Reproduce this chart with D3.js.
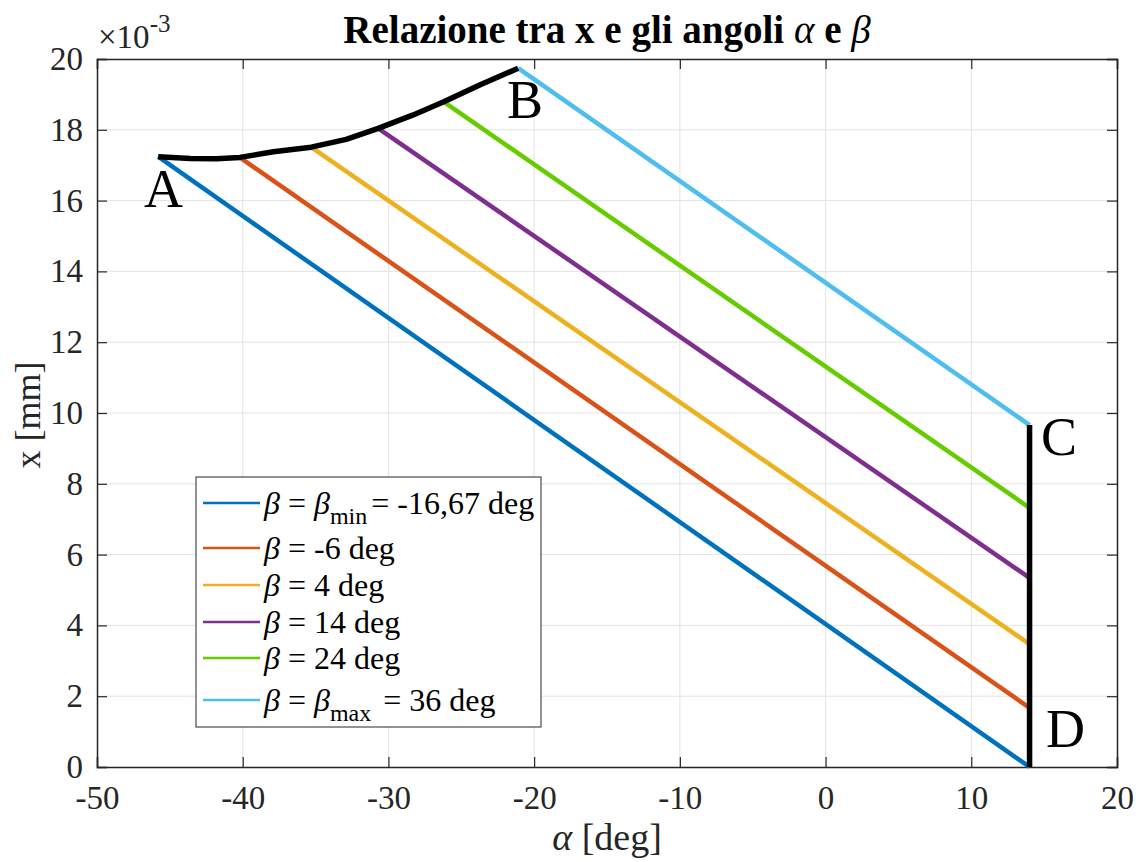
<!DOCTYPE html>
<html>
<head>
<meta charset="utf-8">
<script src="https://cdnjs.cloudflare.com/ajax/libs/d3/7.8.5/d3.min.js"></script>
<style>
  body { margin: 0; background: #fff; }
  svg text { font-family: "Liberation Serif", "Times New Roman", Times, "DejaVu Serif", serif; fill: #262626; }
</style>
</head>
<body>
<svg id="canvas"></svg>
<script>
// data (x in units of 1e-3 mm)
let seriesNames = ["bmin", "-6", "4", "14", "24", "bmax"]
let seriesColors = ["#0072BD", "#D95319", "#EDB120", "#7E2F8E", "#66CC00", "#4DBEEE"]
let alphaStart = [-45.8, -40.2, -35.3, -30.7, -26.2, -21.1]
let xStart = [17.24, 17.22, 17.51, 18.04, 18.79, 19.74]
let alphaEnd = [14, 14, 14, 14, 14, 14]
let xEnd = [0, 1.67, 3.47, 5.34, 7.32, 9.66]

// boundary curve A-B
let curveAlpha = [-45.8, -43.6, -41.8, -40.2, -37.9, -35.3, -32.9, -30.7, -28.3, -26.2, -23.7, -21.1]
let curveX = [17.24, 17.19, 17.18, 17.22, 17.38, 17.51, 17.73, 18.04, 18.42, 18.79, 19.27, 19.74]

// boundary C-D
let cdAlpha = [14, 14]
let cdX = [0, 9.66]

let xTicks = [-50, -40, -30, -20, -10, 0, 10, 20]
let yTicks = [0, 2, 4, 6, 8, 10, 12, 14, 16, 18, 20]

let width = 1138
let height = 862
let pLeft = 97, pRight = 1117, pTop = 59, pBottom = 767
let serif = '"Liberation Serif", "Times New Roman", Times, "DejaVu Serif", serif'

let svg = d3.select("#canvas")
    .attr("width", width)
    .attr("height", height)

let xScale = d3.scaleLinear().domain([-50, 20]).range([pLeft, pRight])
let yScale = d3.scaleLinear().domain([0, 20]).range([pBottom, pTop])

// grid
svg.append("g")
    .selectAll("line")
    .data(xTicks.slice(1, -1))
    .enter()
    .append("line")
    .attr("x1", d => xScale(d)).attr("x2", d => xScale(d))
    .attr("y1", pTop).attr("y2", pBottom)
    .attr("stroke", "#e3e3e3").attr("stroke-width", 1)
svg.append("g")
    .selectAll("line")
    .data(yTicks.slice(1, -1))
    .enter()
    .append("line")
    .attr("y1", d => yScale(d)).attr("y2", d => yScale(d))
    .attr("x1", pLeft).attr("x2", pRight)
    .attr("stroke", "#e3e3e3").attr("stroke-width", 1)

// axes (ticks pointing inward, on all four sides)
let fmt = d => String(d)
let xAxis = d3.axisBottom(xScale).tickValues(xTicks).tickSize(-10).tickPadding(19).tickFormat(fmt)
let yAxis = d3.axisLeft(yScale).tickValues(yTicks).tickSize(-10).tickPadding(14).tickFormat(fmt)

let gx = svg.append("g")
    .attr("transform", "translate(0," + pBottom + ")")
    .call(xAxis)
let gy = svg.append("g")
    .attr("transform", "translate(" + pLeft + ",0)")
    .call(yAxis)
svg.append("g")
    .attr("transform", "translate(0," + pTop + ")")
    .call(d3.axisTop(xScale).tickValues(xTicks).tickSize(-10).tickFormat(""))
svg.append("g")
    .attr("transform", "translate(" + pRight + ",0)")
    .call(d3.axisRight(yScale).tickValues(yTicks).tickSize(-10).tickFormat(""))

svg.selectAll(".domain").attr("stroke", "#262626").attr("stroke-width", 1.5)
svg.selectAll(".tick line").attr("stroke", "#262626").attr("stroke-width", 1.2)
gx.attr("font-family", serif).attr("font-size", 33)
gy.attr("font-family", serif).attr("font-size", 33)
gx.selectAll("text").attr("fill", "#262626")
gy.selectAll("text").attr("fill", "#262626")

// series lines
let line = d3.line().x(d => xScale(d[0])).y(d => yScale(d[1]))
let seriesData = seriesNames.map((n, i) => [[alphaStart[i], xStart[i]], [alphaEnd[i], xEnd[i]]])

svg.append("g")
    .selectAll("path")
    .data(seriesData)
    .enter()
    .append("path")
    .attr("d", d => line(d))
    .attr("fill", "none")
    .attr("stroke", (d, i) => seriesColors[i])
    .attr("stroke-width", 4.5)

// black boundaries
svg.append("path")
    .attr("d", line(curveAlpha.map((a, i) => [a, curveX[i]])))
    .attr("fill", "none").attr("stroke", "#000").attr("stroke-width", 5.5)
    .attr("stroke-linejoin", "round")
svg.append("path")
    .attr("d", line(cdAlpha.map((a, i) => [a, cdX[i]])))
    .attr("fill", "none").attr("stroke", "#000").attr("stroke-width", 5.5)

// point labels
let pts = [["A", 144, 207], ["B", 507, 118], ["C", 1041, 455], ["D", 1046, 747]]
svg.selectAll(".ptlabel")
    .data(pts)
    .enter()
    .append("text")
    .attr("class", "ptlabel")
    .attr("x", d => d[1]).attr("y", d => d[2])
    .style("font-size", "54px")
    .style("fill", "#000")
    .text(d => d[0])

// title
let title = svg.append("text")
    .attr("x", (pLeft + pRight) / 2).attr("y", 43)
    .attr("text-anchor", "middle")
    .style("font-size", "39px").style("font-weight", "bold")
    .style("fill", "#000")
title.append("tspan").text("Relazione tra x e gli angoli ")
title.append("tspan").style("font-style", "italic").style("font-weight", "normal").text("α")
title.append("tspan").text(" e ")
title.append("tspan").style("font-style", "italic").style("font-weight", "normal").text("β")

// exponent
let expo = svg.append("text").attr("x", 98).attr("y", 48).style("font-size", "33px")
expo.append("tspan").text("×10")
expo.append("tspan").attr("dy", -16).style("font-size", "25px").text("-3")

// axis labels
let xl = svg.append("text")
    .attr("x", (pLeft + pRight) / 2).attr("y", 850)
    .attr("text-anchor", "middle")
    .style("font-size", "38px")
xl.append("tspan").style("font-style", "italic").text("α")
xl.append("tspan").text(" [deg]")

svg.append("text")
    .attr("transform", "translate(40,415) rotate(-90)")
    .attr("text-anchor", "middle")
    .style("font-size", "36px")
    .text("x [mm]")

// legend
let legend = svg.append("g")
legend.append("rect")
    .attr("x", 196).attr("y", 477)
    .attr("width", 345).attr("height", 250)
    .attr("fill", "#fff").attr("stroke", "#262626").attr("stroke-width", 1)

let rowY = [503, 548, 585, 622, 658, 700]
seriesNames.forEach((n, i) => {
    legend.append("line")
        .attr("x1", 203).attr("x2", 260)
        .attr("y1", rowY[i]).attr("y2", rowY[i])
        .attr("stroke", seriesColors[i]).attr("stroke-width", 2.5)
    let t = legend.append("text")
        .attr("x", 264).attr("y", rowY[i] + 11)
        .style("font-size", "32px").style("fill", "#000")
    t.append("tspan").style("font-style", "italic").text("β")
    t.append("tspan").text(" = ")
    if (n == "bmin" || n == "bmax") {
        t.append("tspan").style("font-style", "italic").text("β")
        t.append("tspan").attr("dy", 10).style("font-size", "24px").text(n == "bmin" ? "min" : "max")
        t.append("tspan").attr("dy", -10).attr("dx", 4).text(n == "bmin" ? "= -16,67 deg" : " = 36 deg")
    } else {
        t.append("tspan").text(n + " deg")
    }
})
</script>
</body>
</html>
